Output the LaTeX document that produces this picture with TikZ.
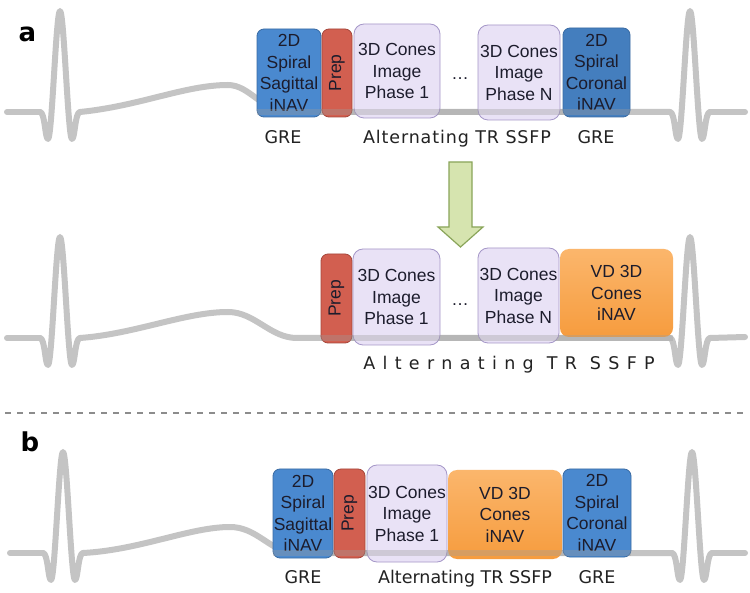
\documentclass[tikz,border=0pt]{standalone}
\usepackage{fontspec}
\usepackage{graphicx}
\setmainfont{Liberation Sans}
\newfontfamily\lblfont{DejaVu Sans}
\newfontfamily\lblwide[LetterSpace=5]{DejaVu Sans}
\newfontfamily\lblspaced[LetterSpace=42]{DejaVu Sans}
\newcommand\bxfont{\fontsize{17.5}{21.5}\selectfont}
\newcommand\lbsize{\fontsize{17.5}{20}\selectfont}
\definecolor{nblue}{HTML}{4A89CF}
\definecolor{nblueD}{HTML}{3A6BA3}
\definecolor{nred}{HTML}{D25F50}
\definecolor{nredD}{HTML}{A5473C}
\definecolor{nlav}{HTML}{E9E2F6}
\definecolor{nlavD}{HTML}{A597C8}
\definecolor{norgT}{HTML}{FBB66C}
\definecolor{norgB}{HTML}{F69C3E}
\definecolor{ngreen}{HTML}{D6E4AF}
\definecolor{ngreenD}{HTML}{8AA55A}
\definecolor{ecggray}{HTML}{C4C4C4}
\definecolor{boxtext}{HTML}{1C1C2C}
\definecolor{lblcol}{HTML}{222222}
\tikzset{
  box/.style={rounded corners=7pt, align=center, inner sep=0pt, font=\bxfont, text=boxtext, line width=0.8pt},
  bluebox/.style={box, fill=nblue, draw=nblueD},
  prepbox/.style={box, fill=nred, draw=nredD},
  conebox/.style={box, rounded corners=10pt, fill=nlav, draw=nlavD},
  vdbox/.style={box, rounded corners=9pt, top color=norgT, bottom color=norgB, draw=none},
  ecg/.style={draw=ecggray, line width=6pt, line cap=round, line join=round},
  ecgover/.style={draw=ecggray!80!black, line width=6pt, opacity=0.35},
  lbl/.style={font=\lblfont\lbsize, anchor=base, text=lblcol},
  dotsl/.style={font=\bxfont, anchor=base, text=boxtext},
  panel/.style={font=\lblfont\bfseries\fontsize{26}{28}\selectfont, anchor=base west, text=black},
  pics/spike/.style={code={
    \draw[ecg] (-20,0) .. controls (-15,0) and (-15,27) .. (-12,27)
      .. controls (-8,27) and (-4,-101) .. (0,-101)
      .. controls (4,-101) and (8,27) .. (12,27)
      .. controls (15,27) and (15,0) .. (20,0);
  }}
}
\begin{document}
\begin{tikzpicture}[x=1pt,y=-1pt]
\useasboundingbox[fill=white] (0,0) rectangle (750,593);

% panel letters
\node[panel] (la) at (15,42) {a};
\node[panel] (lb) at (17,452) {b};

% ===== ECG traces =====
% row a
\draw[ecg] (7,112) -- (40,112);
\pic at (60,112) {spike};
\draw[ecg] (80,112) .. controls (140,106) and (185,85) .. (228,85)
  .. controls (250,85) and (262,112) .. (290,112) -- (670,112);
\pic at (690,112) {spike};
\draw[ecg] (710,112) -- (745,112);
% row a'
\draw[ecg] (7,338) -- (40,338);
\pic at (60,338) {spike};
\draw[ecg] (80,338) .. controls (135,334) and (185,312) .. (228,312)
  .. controls (255,312) and (270,338) .. (297,338) -- (670,338);
\pic at (690,338) {spike};
\draw[ecg] (710,338) -- (745,337);
% row b
\draw[ecg] (10,553) -- (43,553);
\pic at (63,553) {spike};
\draw[ecg] (83,553) .. controls (140,550) and (190,527) .. (230,527)
  .. controls (255,527) and (268,548) .. (290,553) -- (672,553);
\pic at (692,553) {spike};
\draw[ecg] (712,553) -- (745,553);

% ===== Row a boxes =====
\node[bluebox, minimum width=64pt, minimum height=88pt] (sagA) at (289,73) {2D\\Spiral\\Sagittal\\iNAV};
\node[prepbox, minimum width=30pt, minimum height=88pt] (prepA) at (337,73) {\rotatebox{90}{Prep}};
\node[conebox, minimum width=86pt, minimum height=94pt] (c1A) at (397,71) {3D Cones\\Image\\Phase 1};
\node[dotsl] (dA) at (460,80) {…};
\node[conebox, minimum width=82pt, minimum height=95pt] (cNA) at (519,72.5) {3D Cones\\Image\\Phase N};
\node[bluebox, fill=nblue!92!black, minimum width=67pt, minimum height=89pt] (corA) at (596.5,72.5) {2D\\Spiral\\Coronal\\iNAV};
\draw[ecgover] (sagA.west |- 0,112) -- (corA.east |- 0,112);

\node[lbl] (greA1) at (283,143.5) {GRE};
\node[lbl, font=\lblwide\lbsize] (altA) at (457,143.5) {Alternating TR SSFP};
\node[lbl] (greA2) at (596,143.5) {GRE};

% ===== arrow =====
\draw[fill=ngreen, draw=ngreenD, line width=1.2pt, line join=miter]
  (449,162) -- (472,162) -- (472,227) -- (483,227) -- (460.5,247)
  -- (438,227) -- (449,227) -- cycle;

% ===== Row a' boxes =====
\node[prepbox, minimum width=31pt, minimum height=89pt] (prepA2) at (336.5,298.5) {\rotatebox{90}{Prep}};
\node[conebox, minimum width=87pt, minimum height=96pt] (c1A2) at (396.5,297) {3D Cones\\Image\\Phase 1};
\node[dotsl] (dA2) at (460,306) {…};
\node[conebox, minimum width=81pt, minimum height=95pt] (cNA2) at (518.5,295.5) {3D Cones\\Image\\Phase N};
\node[vdbox, minimum width=113pt, minimum height=88pt] (vdA2) at (616.5,293) {VD 3D\\Cones\\iNAV};
\draw[ecgover] (prepA2.west |- 0,338) -- (vdA2.east |- 0,338);

\node[lbl, font=\lblspaced\lbsize] (altA2) at (509,369.5) {Alternating TR SSFP};

% ===== separator =====
\draw[draw=gray!90, line width=1.2pt, dash pattern=on 6pt off 6pt] (5,413) -- (745,413);

% ===== Row b boxes =====
\node[bluebox, minimum width=60pt, minimum height=89pt] (sagB) at (303,513.5) {2D\\Spiral\\Sagittal\\iNAV};
\node[prepbox, minimum width=31pt, minimum height=89pt] (prepB) at (349.5,513.5) {\rotatebox{90}{Prep}};
\node[conebox, minimum width=80pt, minimum height=97pt] (c1B) at (407,513.5) {3D Cones\\Image\\Phase 1};
\node[vdbox, minimum width=114pt, minimum height=89pt] (vdB) at (505,514.5) {VD 3D\\Cones\\iNAV};
\node[bluebox, minimum width=68pt, minimum height=88pt] (corB) at (597,513) {2D\\Spiral\\Coronal\\iNAV};
\draw[ecgover] (sagB.west |- 0,553) -- (corB.east |- 0,553);

\node[lbl] (greB1) at (303,583) {GRE};
\node[lbl] (altB) at (465,583) {Alternating TR SSFP};
\node[lbl] (greB2) at (597,583) {GRE};
\end{tikzpicture}
\end{document}
